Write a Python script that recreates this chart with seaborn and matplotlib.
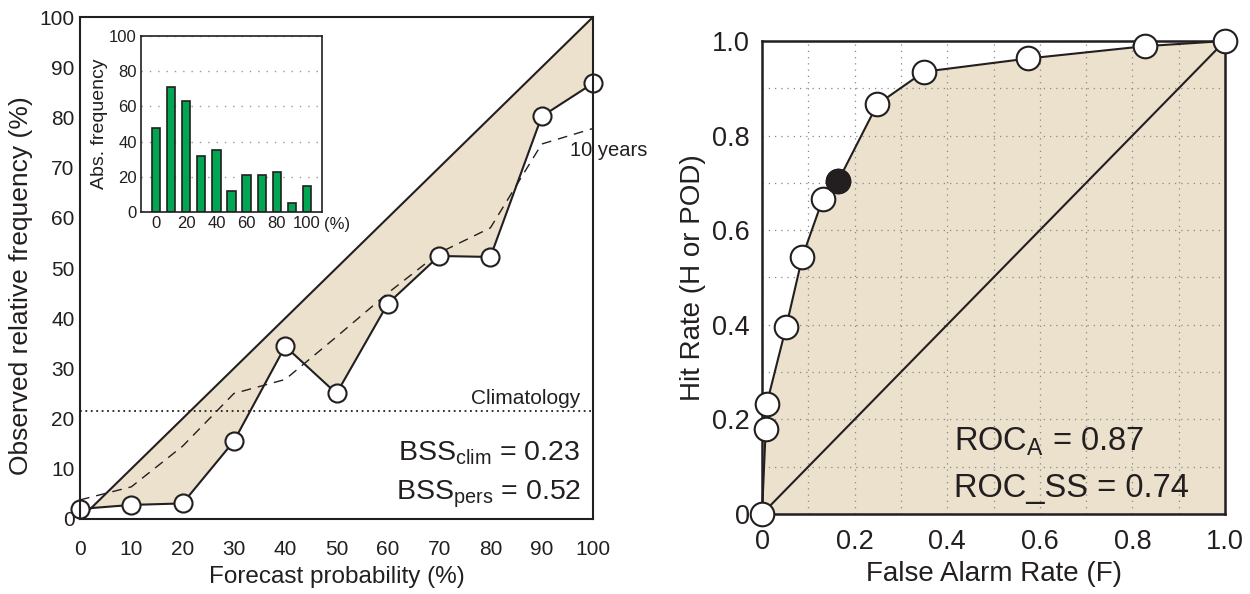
import numpy as np
import pandas as pd
import matplotlib
matplotlib.use("Agg")
import matplotlib.pyplot as plt
import matplotlib.transforms as mtransforms
import seaborn as sns

# reliability diagram
fc_prob = [0, 10, 20, 30, 40, 50, 60, 70, 80, 90, 100]
obs_freq = [2.0, 2.8, 3.1, 15.5, 34.4, 25.0, 42.9, 52.4, 52.2, 80.2, 86.8]
obs_10yr = [3.8, 6.4, 14.5, 25.0, 27.8, 36.3, 45.0, 53.0, 58.0, 74.7, 77.8]
climatology = 21.5

# inset histogram
hist_bins = [0, 10, 20, 30, 40, 50, 60, 70, 80, 90, 100]
hist_counts = [48, 71, 63, 32, 35, 12, 21, 21, 23, 5, 15]

# ROC curve
far = [0.0, 0.008, 0.010, 0.052, 0.087, 0.131, 0.165, 0.249, 0.350, 0.575, 0.827, 1.0]
hit = [0.0, 0.179, 0.232, 0.395, 0.543, 0.665, 0.705, 0.866, 0.935, 0.963, 0.989, 1.0]
hit_marked = 6  # filled point

sns.set_theme(style="white")
plt.rcParams["font.family"] = ["Liberation Sans", "DejaVu Sans"]
plt.rcParams["mathtext.fontset"] = "custom"
plt.rcParams["mathtext.rm"] = "Liberation Sans"
plt.rcParams["mathtext.it"] = "Liberation Sans:italic"

ink = "#231f20"
beige = "#ebe1cc"
green = "#00a651"

fig = plt.figure(figsize=(12.5, 5.94), dpi=100)

# ---- left: reliability
ax1 = fig.add_axes([0.064, 0.1263, 0.4104, 0.845])
rel = pd.DataFrame({"p": fc_prob, "obs": obs_freq, "ten": obs_10yr})

ax1.fill_between(rel["p"], rel["obs"], rel["p"], color=beige, lw=0, zorder=0.5)
sns.lineplot(x=[0, 100], y=[0, 100], color=ink, lw=1.5, ax=ax1)
sns.lineplot(data=rel, x="p", y="ten", color=ink, lw=1.0, ax=ax1,
             linestyle=(0, (7, 5)))
sns.lineplot(data=rel, x="p", y="obs", color=ink, lw=1.5, ax=ax1,
             marker="o", markersize=13, markerfacecolor="white",
             markeredgecolor=ink, markeredgewidth=1.5, clip_on=False)
ax1.axhline(climatology, color=ink, lw=1.3, ls=(0, (1, 2)))

ax1.set_xlim(0, 100)
ax1.set_ylim(0, 100)
ax1.set_xticks(range(0, 101, 10))
ax1.set_yticks(range(0, 101, 10))
ax1.tick_params(axis="both", length=0, labelsize=15, colors=ink)
ax1.tick_params(axis="x", pad=15)
ax1.tick_params(axis="y", pad=4)
ax1.set_xlabel("Forecast probability (%)", fontsize=17.5, color=ink, labelpad=5)
ax1.set_ylabel("Observed relative frequency (%)", fontsize=19, color=ink)
ax1.yaxis.set_label_coords(-0.091, 0.465)
for s in ax1.spines.values():
    s.set_color(ink)
    s.set_linewidth(1.5)

ax1.text(97.5, climatology + 0.6, "Climatology", ha="right", va="bottom",
         fontsize=15, color=ink)
ax1.text(97.5, 13, r"BSS$_{\rm clim}$ = 0.23", ha="right", va="center",
         fontsize=20.5, color=ink)
ax1.text(97.8, 5, r"BSS$_{\rm pers}$ = 0.52", ha="right", va="center",
         fontsize=20.5, color=ink)
ax1.text(95.5, 73.5, "10 years", ha="left", va="center", fontsize=14.5,
         color=ink, clip_on=False, zorder=5)

# ---- inset histogram
ins = fig.add_axes([0.1128, 0.643, 0.1448, 0.2963])
sns.barplot(x=hist_bins, y=hist_counts, native_scale=True, width=0.55,
            color=green, edgecolor=ink, linewidth=1.2, saturation=1, ax=ins)
ins.set_xlim(-10, 110)
ins.set_ylim(0, 100)
ins.set_xticks([0, 20, 40, 60, 80, 100])
ins.set_yticks([0, 20, 40, 60, 80, 100])
ins.yaxis.grid(True, color="#999999", lw=1.0, ls=(0, (1, 5)))
ins.set_axisbelow(True)
ins.tick_params(axis="both", length=0, labelsize=12, colors=ink, pad=3)
ins.set_ylabel("Abs. frequency", fontsize=14, color=ink, labelpad=1)
ins.set_xlabel("")
for s in ins.spines.values():
    s.set_color(ink)
    s.set_linewidth(1.2)
tr = mtransforms.blended_transform_factory(ins.transData, ins.transAxes)
ins.text(111, -0.07, "(%)", transform=tr, ha="left", va="center",
         fontsize=12, color=ink, clip_on=False)

# ---- right: ROC
ax2 = fig.add_axes([0.6096, 0.1347, 0.3704, 0.7963])
roc = pd.DataFrame({"F": far, "H": hit})
ax2.fill_between(roc["F"], roc["H"], 0, color=beige, lw=0, zorder=0.5)
sns.lineplot(x=[0, 1], y=[0, 1], color=ink, lw=1.5, ax=ax2)
sns.lineplot(data=roc, x="F", y="H", color=ink, lw=1.5, ax=ax2, sort=False,
             marker="o", markersize=17, markerfacecolor="white",
             markeredgecolor=ink, markeredgewidth=1.5, clip_on=False, zorder=4)
sns.scatterplot(x=[far[hit_marked]], y=[hit[hit_marked]], s=17 ** 2,
                color=ink, edgecolor=ink, ax=ax2, zorder=5, clip_on=False)

ax2.set_xlim(0, 1)
ax2.set_ylim(0, 1)
ticks = [0, 0.2, 0.4, 0.6, 0.8, 1.0]
tlabels = ["0", "0.2", "0.4", "0.6", "0.8", "1.0"]
ax2.set_xticks(ticks, tlabels)
ax2.set_yticks(ticks, tlabels)
ax2.set_xticks(np.arange(0.1, 1.0, 0.1), minor=True)
ax2.set_yticks(np.arange(0.1, 1.0, 0.1), minor=True)
ax2.grid(True, which="both", color="#888888", lw=0.9, ls=(0, (1, 4)))
ax2.tick_params(axis="both", which="both", length=0, labelsize=19.5, colors=ink)
ax2.tick_params(axis="x", pad=11)
ax2.tick_params(axis="y", pad=9)
ax2.set_xlabel("False Alarm Rate (F)", fontsize=20, color=ink, labelpad=4)
ax2.set_ylabel("Hit Rate (H or POD)", fontsize=20, color=ink, labelpad=4)
for s in ax2.spines.values():
    s.set_color(ink)
    s.set_linewidth(1.8)

ax2.text(0.415, 0.152, r"ROC$_{\rm A}$ = 0.87", ha="left", va="center",
         fontsize=23.5, color=ink)
ax2.text(0.415, 0.053, "ROC_SS = 0.74", ha="left", va="center",
         fontsize=23.5, color=ink)

fig.savefig("out.png", dpi=100)
